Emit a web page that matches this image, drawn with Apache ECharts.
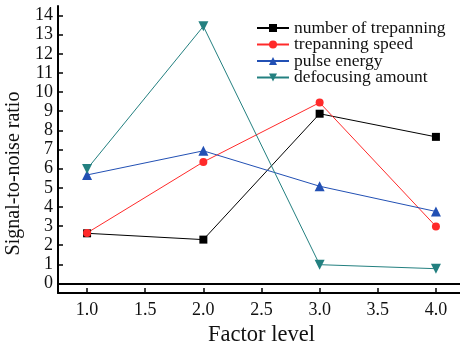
<!DOCTYPE html>
<html>
<head>
<meta charset="utf-8">
<script src="https://cdn.jsdelivr.net/npm/echarts@6/dist/echarts.min.js"></script>
<style>
  html, body { margin: 0; padding: 0; background: #fff; }
  #chart { width: 460px; height: 344px; }
</style>
</head>
<body>
<div id="chart"></div>
<script>
// factor levels and S/N ratios
var levels = [1.0, 2.0, 3.0, 4.0];
var trepanNumber = [2.62, 2.29, 8.87, 7.66];
var trepanSpeed = [2.64, 6.35, 9.45, 2.98];
var pulseEnergy = [5.67, 6.93, 5.08, 3.76];
var defocusAmount = [5.98, 13.44, 0.98, 0.77];
var seriesNames = ['number of trepanning', 'trepanning speed', 'pulse energy', 'defocusing amount'];

// tick positions
var xTicks = [1.0, 1.5, 2.0, 2.5, 3.0, 3.5, 4.0];
var yTicks = [0, 1, 2, 3, 4, 5, 6, 7, 8, 9, 10, 11, 12, 13, 14];

var font = 'Liberation Serif';

function pairs(vals) {
	var out = [];
	for (var i = 0; i < levels.length; i++) {
		out.push([levels[i], vals[i]]);
	}
	return out;
}

var configs = [
	{ data: trepanNumber, color: '#000000', symbol: 'rect', size: 8 },
	{ data: trepanSpeed, color: '#ff2a2a', symbol: 'circle', size: 8 },
	{ data: pulseEnergy, color: '#2250b4', symbol: 'triangle', size: 10 },
	{ data: defocusAmount, color: '#238080', symbol: 'path://M0,0 L10,0 L5,9 Z', size: 10 }
];

var series = [];
for (var k = 0; k < configs.length; k++) {
	series.push({
		name: seriesNames[k],
		type: 'line',
		data: pairs(configs[k].data),
		symbol: configs[k].symbol,
		symbolSize: configs[k].size,
		showAllSymbol: true,
		itemStyle: { color: configs[k].color },
		lineStyle: { color: configs[k].color, width: 1 },
		animation: false
	});
}

var chart = echarts.init(document.getElementById('chart'));

var option = {
	backgroundColor: '#fff',
	textStyle: { fontFamily: font },
	grid: { left: 58, top: 6, width: 407, height: 287, containLabel: false, outerBoundsMode: 'none' },
	legend: {
		orient: 'vertical',
		left: 251,
		top: 14,
		itemWidth: 32,
		itemHeight: 10,
		itemGap: -1.5,
		textStyle: { fontFamily: font, fontSize: 17.5, lineHeight: 14, color: '#111' },
		data: seriesNames
	},
	xAxis: [{
		type: 'value',
		min: 0.75,
		max: 4.25,
		name: 'Factor level',
		nameLocation: 'middle',
		nameGap: 22,
		nameTextStyle: { fontFamily: font, fontSize: 22.5, color: '#111' },
		splitLine: { show: false },
		axisLine: { onZero: false, lineStyle: { color: '#000', width: 2 } },
		axisTick: { inside: true, length: 5, customValues: xTicks, lineStyle: { color: '#000', width: 1.5 } },
		axisLabel: {
			margin: 8,
			fontFamily: font,
			fontSize: 18,
			color: '#111',
			customValues: xTicks,
			formatter: function (v) { return v.toFixed(1); }
		}
	}, {
		type: 'value',
		position: 'top',
		min: 0.75,
		max: 4.25,
		axisLine: { show: true, lineStyle: { color: '#000', width: 2 } },
		axisTick: { show: false },
		axisLabel: { show: false },
		splitLine: { show: false }
	}],
	yAxis: {
		type: 'value',
		min: -0.5,
		max: 14.5,
		name: 'Signal-to-noise ratio',
		nameLocation: 'middle',
		nameGap: 30,
		nameTextStyle: { fontFamily: font, fontSize: 20, color: '#111', padding: [0, 48, 0, 0] },
		splitLine: { show: false },
		axisLine: { onZero: false, lineStyle: { color: '#000', width: 2 } },
		axisTick: { inside: true, length: 5, customValues: yTicks, lineStyle: { color: '#000', width: 1.5 } },
		axisLabel: {
			margin: 5,
			fontFamily: font,
			fontSize: 18,
			color: '#111',
			customValues: yTicks
		}
	},
	series: series
};

chart.setOption(option);
</script>
</body>
</html>
